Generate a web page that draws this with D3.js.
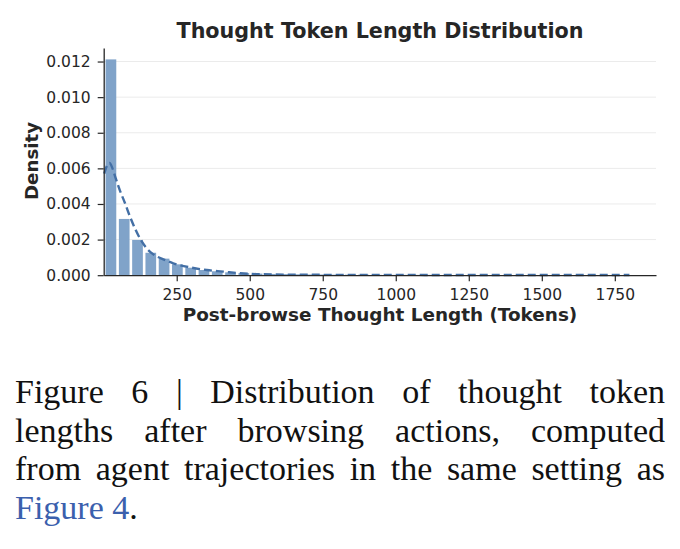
<!DOCTYPE html>
<html>
<head>
<meta charset="utf-8">
<script src="https://cdn.jsdelivr.net/npm/d3@7"></script>
<style>
  body { margin: 0; background: #fff; }
  svg { display: block; }
</style>
</head>
<body>
<div id="chart"></div>
<script>
//Histogram bins (token edges) and densities
let binEdges = [2, 47.5, 93, 138.5, 184, 229.5, 275, 320.5, 366, 411.5, 457, 502.5, 548, 593.5,
	639, 684.5, 730, 775.5, 821, 866.5, 912, 957.5, 1003, 1048.5, 1094, 1139.5, 1185, 1230.5,
	1276, 1321.5, 1367, 1412.5, 1458, 1503.5, 1549, 1594.5, 1640, 1685.5, 1731, 1776.5, 1822];
let densities = [0.01212, 0.00316, 0.00198, 0.00126, 0.00093, 0.00061, 0.00042, 0.00029, 0.00022, 0.00016,
	0.00012, 0.00009, 0.00007, 0.00006, 0.00005, 0.00004, 0.00004, 0.00003, 0.00003, 0.00003,
	0.00002, 0.00002, 0.00002, 0.00002, 0.00002, 0.00001, 0.00001, 0.00001, 0.00001, 0.00001,
	0.00001, 0.00001, 0.00001, 0.00001, 0.00001, 0.00001, 0.00001, 0.00001, 0.00001, 0.00001];

//KDE curve (dashed)
let kdeX = [2, 10, 20, 30, 40, 55, 73, 90, 107, 124, 147, 170, 204, 238, 296, 353, 410, 467, 524, 638, 800, 1000, 1200, 1400, 1600, 1800];
let kdeY = [0.0057, 0.0061, 0.0063, 0.0060, 0.0055, 0.00478, 0.00404, 0.00329, 0.00263, 0.00207, 0.00151, 0.00117,
	0.00089, 0.00067, 0.00044, 0.00029, 0.00020, 0.00011, 0.00006, 0.00003, 0.00002, 0.00002, 0.00001, 0.00001, 0.00001, 0.00001];

//Ticks
let xTicks = [250, 500, 750, 1000, 1250, 1500, 1750];
let yTicks = [0, 0.002, 0.004, 0.006, 0.008, 0.010, 0.012];

//Caption lines
let captionLines = [
	"Figure 6 | Distribution of thought token",
	"lengths after browsing actions, computed",
	"from agent trajectories in the same setting as"
];

//Dimensions
let width = 680;
let height = 549;
let plotLeft = 103.7, plotRight = 656, plotTop = 48, plotBottom = 275.2;

let svg = d3.select("#chart").append("svg")
	.attr("width", width)
	.attr("height", height);

let x = d3.scaleLinear().domain([0, 1891]).range([plotLeft, plotRight]);
let y = d3.scaleLinear().domain([0, 0.01276]).range([plotBottom, plotTop]);

//Grid
svg.append("g")
	.selectAll("line")
	.data(yTicks.slice(1))
	.enter()
		.append("line")
			.attr("x1", plotLeft)
			.attr("x2", plotRight)
			.attr("y1", d => y(d))
			.attr("y2", d => y(d))
			.attr("stroke", "#ebebeb")
			.attr("stroke-width", 1);

//Bars
let gap = 1.3;
svg.append("g")
	.selectAll("rect")
	.data(densities)
	.enter()
		.append("rect")
			.attr("fill", "#80a3c9")
			.attr("x", (d, i) => x(binEdges[i]) + gap)
			.attr("width", (d, i) => x(binEdges[i + 1]) - x(binEdges[i]) - 2 * gap)
			.attr("y", d => y(d))
			.attr("height", d => y(0) - y(d));

//KDE line
let kde = kdeX.map((v, i) => [v, kdeY[i]]);
svg.append("path")
	.datum(kde)
	.attr("fill", "none")
	.attr("stroke", "#436fa5")
	.attr("stroke-width", 2.4)
	.attr("stroke-dasharray", "8,4")
	.attr("d", d3.line().x(d => x(d[0])).y(d => y(d[1])).curve(d3.curveMonotoneX));

//Axes
let xAxis = svg.append("g")
	.attr("transform", "translate(0," + plotBottom + ")")
	.call(d3.axisBottom(x).tickValues(xTicks).tickFormat(d3.format("d")).tickSize(6).tickPadding(8).tickSizeOuter(0));
let yAxis = svg.append("g")
	.attr("transform", "translate(" + plotLeft + ",0)")
	.call(d3.axisLeft(y).tickValues(yTicks).tickFormat(d3.format(".3f")).tickSize(6).tickPadding(7).tickSizeOuter(0));

[xAxis, yAxis].forEach(function(a){
	a.selectAll("text")
		.attr("font-family", "DejaVu Sans")
		.attr("font-size", 15.5)
		.attr("fill", "#262626");
	a.selectAll("line").attr("stroke", "#262626").attr("stroke-width", 1.2);
	a.select(".domain").attr("stroke", "#262626").attr("stroke-width", 1.3);
});

//Titles
svg.append("text")
	.attr("x", 380)
	.attr("y", 38)
	.attr("text-anchor", "middle")
	.attr("font-family", "DejaVu Sans")
	.attr("font-weight", "bold")
	.attr("font-size", 20.7)
	.attr("fill", "#262626")
	.text("Thought Token Length Distribution");

svg.append("text")
	.attr("x", 380)
	.attr("y", 321)
	.attr("text-anchor", "middle")
	.attr("font-family", "DejaVu Sans")
	.attr("font-weight", "bold")
	.attr("font-size", 18.4)
	.attr("fill", "#262626")
	.text("Post-browse Thought Length (Tokens)");

svg.append("text")
	.attr("transform", "translate(38,161) rotate(-90)")
	.attr("text-anchor", "middle")
	.attr("font-family", "DejaVu Sans")
	.attr("font-weight", "bold")
	.attr("font-size", 18.2)
	.attr("fill", "#262626")
	.text("Density");

//Caption, justified between 15 and 665
let capLeft = 15, capRight = 665, lineGap = 38.7, firstBase = 403;
let capFont = "Liberation Serif";
let capSize = 34;

captionLines.forEach(function(line, li){
	let words = line.split(" ");
	let nodes = words.map(function(w){
		return svg.append("text")
			.attr("y", firstBase + li * lineGap)
			.attr("font-family", capFont)
			.attr("font-size", capSize)
			.attr("fill", "#111")
			.text(w);
	});
	let widths = nodes.map(n => n.node().getComputedTextLength());
	let total = d3.sum(widths);
	let space = (capRight - capLeft - total) / (words.length - 1);
	let cx = capLeft;
	nodes.forEach(function(n, i){
		n.attr("x", cx);
		cx += widths[i] + space;
	});
});

let last = svg.append("text")
	.attr("x", capLeft)
	.attr("y", firstBase + 3 * lineGap)
	.attr("font-family", capFont)
	.attr("font-size", capSize)
	.attr("fill", "#111");
last.append("tspan").attr("fill", "#3b60ad").text("Figure 4");
last.append("tspan").text(".");
</script>
</body>
</html>
